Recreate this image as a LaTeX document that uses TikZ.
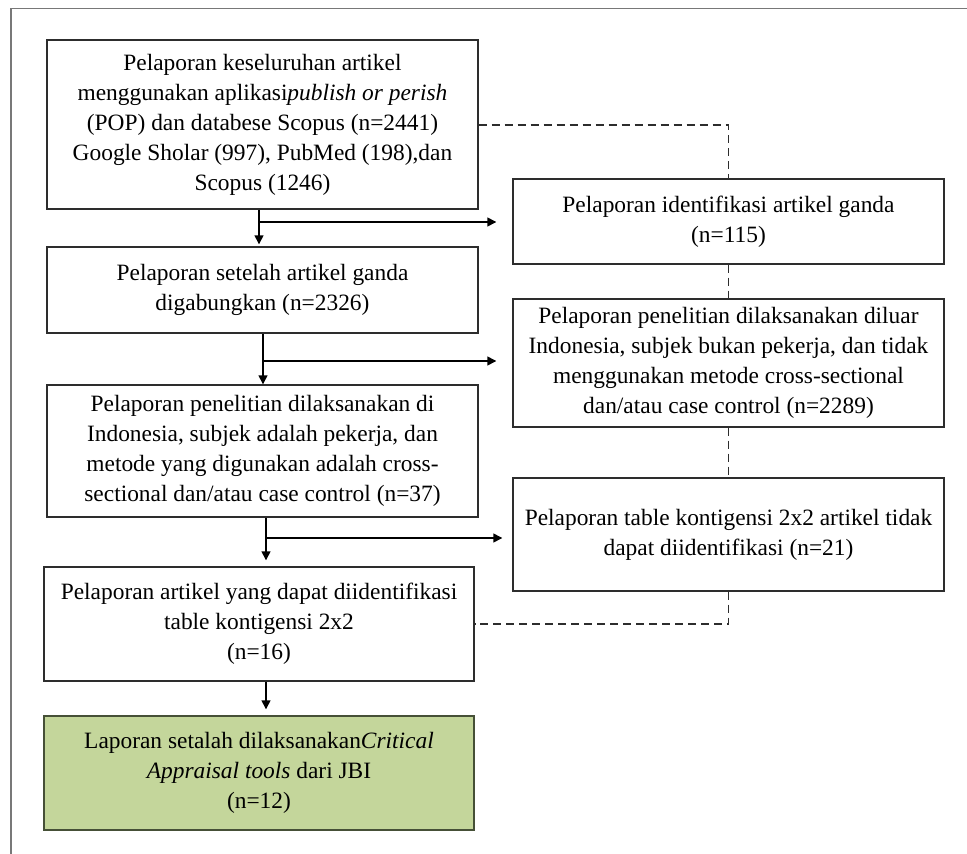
\documentclass[tikz,border=0pt]{standalone}
\usepackage{fontspec}
\setmainfont{Liberation Serif}
\usetikzlibrary{arrows.meta,calc}
\definecolor{boxline}{RGB}{45,45,45}
\definecolor{framegray}{RGB}{120,120,120}
\definecolor{greenfill}{RGB}{196,214,155}
\definecolor{greenline}{RGB}{70,80,55}
\begin{document}
\begin{tikzpicture}[x=1pt,y=-1pt,
  box/.style={draw=boxline, line width=1.4pt, minimum width=431pt, inner sep=2pt, align=center, font=\fontsize{23.4}{30}\selectfont},
  arr/.style={draw=black, line width=1.4pt, -{Triangle[length=9pt,width=9pt]}},
  dsh/.style={draw=boxline, line width=1.4pt, dash pattern=on 8pt off 5pt}]
\useasboundingbox (0,0) rectangle (967,854);
\draw[framegray, line width=1.6pt] (11,854) -- (11,8.5) -- (967,8.5);

\node[box, minimum height=169pt] (b1) at (262.5,124.5)
  {Pelaporan keseluruhan artikel\\menggunakan aplikasi\textit{publish or perish}\\(POP) dan databese Scopus (n=2441)\\Google Sholar (997), PubMed (198),dan\\Scopus (1246)};
\node[box, minimum height=85pt] (ident) at (728.5,221.5)
  {Pelaporan identifikasi artikel ganda\\(n=115)};
\node[box, minimum height=86pt] (b2) at (262.5,290)
  {Pelaporan setelah artikel ganda\\digabungkan (n=2326)};
\node[box, minimum height=128pt] (diluar) at (728.5,363)
  {Pelaporan penelitian dilaksanakan diluar\\Indonesia, subjek bukan pekerja, dan tidak\\menggunakan metode cross-sectional\\dan/atau case control (n=2289)};
\node[box, minimum height=132pt] (b3) at (262.5,451)
  {Pelaporan penelitian dilaksanakan di\\Indonesia, subjek adalah pekerja, dan\\metode yang digunakan adalah cross-\\sectional dan/atau case control (n=37)};
\node[box, minimum height=113pt] (tbl) at (728.5,534.5)
  {Pelaporan table kontigensi 2x2 artikel tidak\\dapat diidentifikasi (n=21)};
\node[box, minimum width=430pt, minimum height=114pt] (b4) at (259,624)
  {Pelaporan artikel yang dapat diidentifikasi\\table kontigensi 2x2\\(n=16)};
\node[box, draw=greenline, fill=greenfill, minimum width=430pt, minimum height=114pt] (b5) at (259,773)
  {Laporan setalah dilaksanakan\textit{Critical}\\\textit{Appraisal tools} dari JBI\\(n=12)};

% solid connectors
\coordinate (j1) at (259,222);
\draw[arr, shorten >=2pt] (b1.south -| j1) -- (b2.north -| j1);
\draw[arr, shorten >=16pt] (j1) -- (j1 -| ident.west);

\coordinate (j2) at (263,361);
\draw[arr] (b2.south -| j2) -- (b3.north -| j2);
\draw[arr, shorten >=16pt] (j2) -- (j2 -| diluar.west);

\coordinate (j3) at (266,538);
\draw[arr, shorten >=6pt] (b3.south -| j3) -- (b4.north -| j3);
\draw[arr, shorten >=10pt] (j3) -- (j3 -| tbl.west);

\draw[arr, shorten >=6pt] (b4.south -| j3) -- (b5.north -| j3);

% dashed connectors
\coordinate (d1) at (728.5,125);
\draw[dsh] (d1 -| b1.east) -- (d1) -- (ident.north);
\draw[dsh] (ident.south) -- (diluar.north);
\draw[dsh] (diluar.south) -- (tbl.north);
\coordinate (d2) at (728.5,624);
\draw[dsh] (tbl.south) -- (d2) -- (b4.east);
\end{tikzpicture}
\end{document}
